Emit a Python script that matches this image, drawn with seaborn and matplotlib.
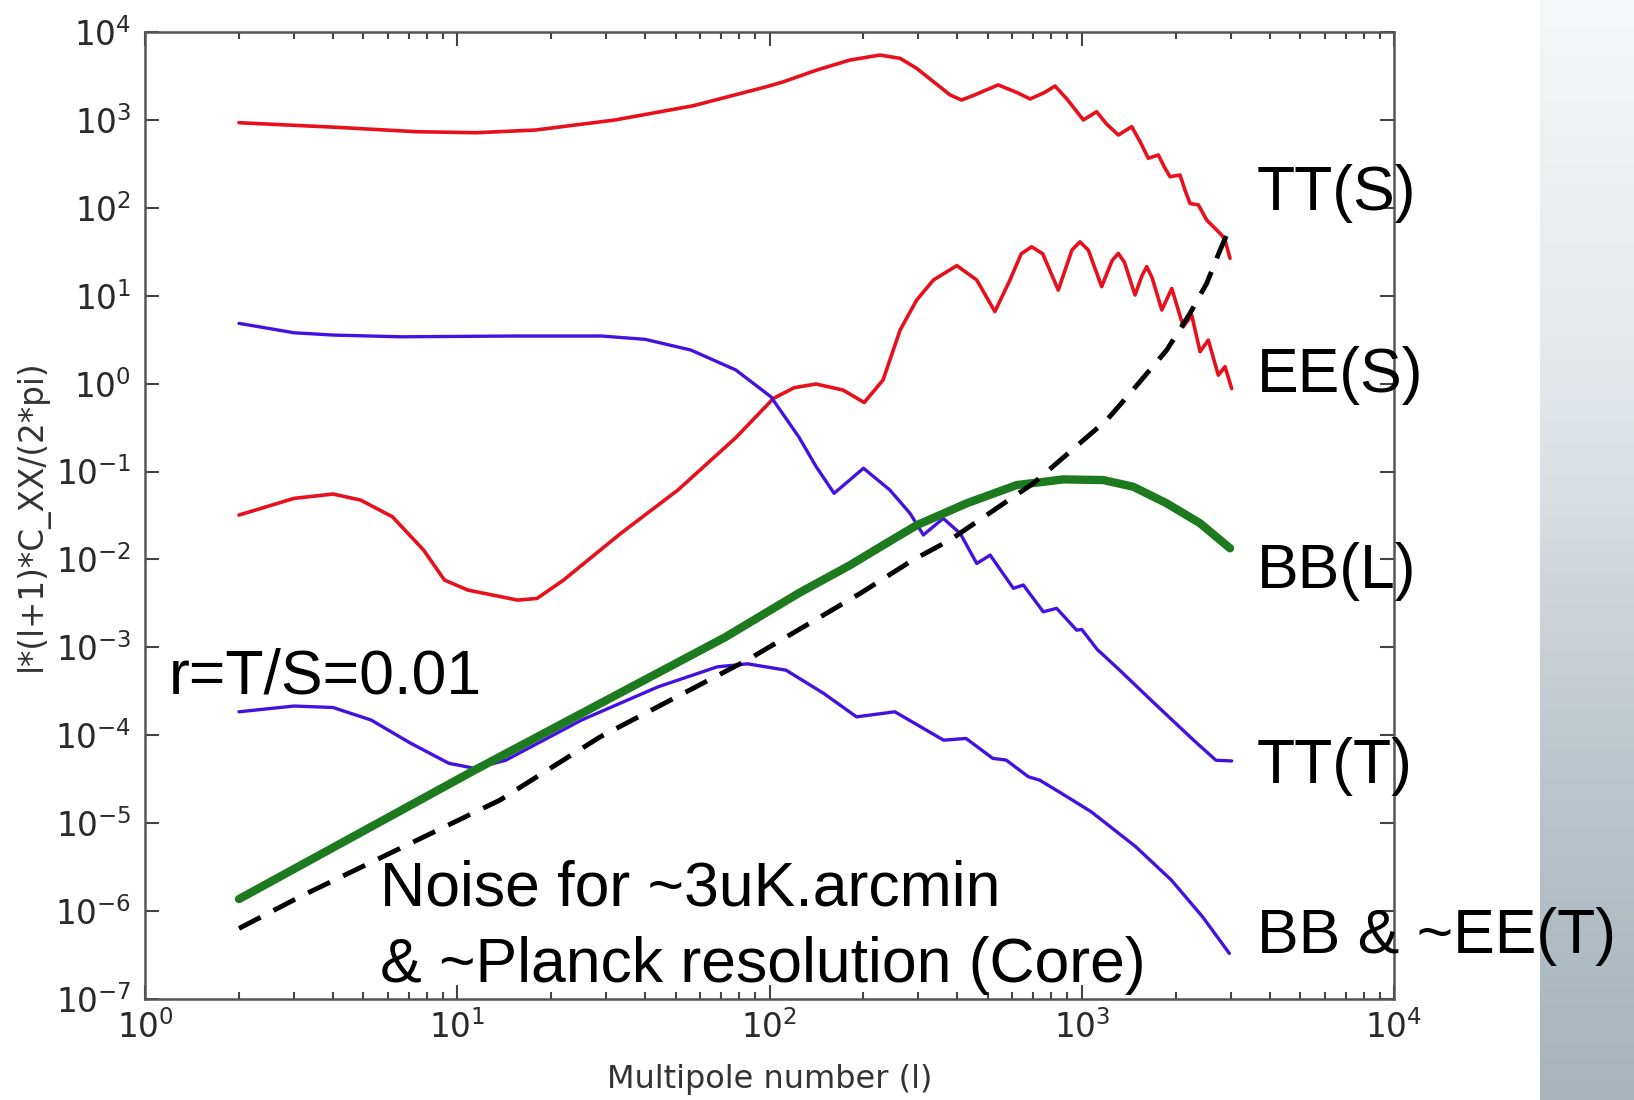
import numpy as np
import pandas as pd
import matplotlib
matplotlib.use("Agg")
import matplotlib.pyplot as plt
import seaborn as sns
from matplotlib.ticker import LogLocator, NullLocator, NullFormatter
from matplotlib.colors import LinearSegmentedColormap

# ---------------- data ----------------
tt_s_l = [2, 4.1, 7.4, 11.5, 17.8, 32, 57, 98, 111, 142, 181, 226, 262, 296, 335, 379, 412,
          450, 540, 620, 683, 760, 821, 900, 1012, 1116, 1200, 1310, 1445, 1540, 1634, 1759,
          1840, 1917, 2064, 2140, 2222, 2362, 2440, 2512, 2671, 2806, 2876, 2984]
tt_s_c = [929, 824, 734, 715, 767, 998, 1450, 2390, 2720, 3700, 4800, 5470, 5010, 3860, 2720,
          1920, 1683, 1900, 2500, 2050, 1730, 2050, 2430, 1700, 998, 1240, 900, 673, 837, 560,
          366, 399, 290, 226, 236, 160, 112, 108, 88, 72.6, 58.5, 49, 43, 26.7]

ee_s_l = [2, 3, 4, 4.9, 6.2, 7.8, 9.1, 10.8, 15.6, 18, 21.9, 33.4, 51, 78, 103, 120, 141, 172,
          201, 231, 262, 296, 335, 398, 461, 527, 589, 640, 691, 750, 841, 930, 987, 1050,
          1158, 1250, 1309, 1370, 1481, 1560, 1615, 1680, 1805, 1942, 2115, 2250, 2393, 2543,
          2737, 2876, 3021]
ee_s_c = [0.032, 0.0495, 0.0555, 0.0474, 0.0306, 0.0128, 0.00583, 0.00449, 0.00345, 0.0036,
          0.00583, 0.0198, 0.062, 0.243, 0.68, 0.9, 0.99, 0.845, 0.61, 1.1, 4.07, 8.93, 15.1,
          22, 15.1, 6.6, 15.1, 30, 36, 30, 11.6, 33, 41, 33, 12.7, 25, 30.3, 24, 10.2, 17,
          21.4, 16, 6.88, 12.1, 4.44, 6.03, 2.31, 3.13, 1.25, 1.56, 0.88]

bb_l_l = [2, 11.5, 72, 125, 181, 231, 296, 428, 619, 873, 1172, 1463, 1871, 2392, 2985]
bb_l_c = [1.37e-6, 4.1e-5, 1.3e-3, 4.2e-3, 8.6e-3, 0.0145, 0.0245, 0.0435, 0.0702, 0.0814,
          0.080, 0.0671, 0.0435, 0.0258, 0.0134]

tt_t_l = [2, 3, 4, 6.6, 15, 29, 40, 56, 78, 101, 124, 141, 161, 200, 243, 282, 311, 360,
          408, 461, 509, 604, 650, 753, 831, 963, 1000, 1120, 1304, 1755, 2281, 2690, 3021]
tt_t_c = [4.85, 3.79, 3.57, 3.41, 3.48, 3.48, 3.19, 2.41, 1.43, 0.71, 0.249, 0.114, 0.0565,
          0.109, 0.0616, 0.0334, 0.019, 0.0293, 0.0198, 0.0090, 0.0112, 0.00469, 0.00512,
          0.00254, 0.00278, 0.00157, 0.00160, 0.00095, 0.000577, 0.000211, 8.8e-5, 5.2e-5,
          5.1e-5]

bb_t_l = [2, 3, 4, 5.3, 7.1, 9.4, 11.4, 14.3, 25, 44, 68, 85, 113, 149, 190, 252, 361, 426,
          519, 573, 675, 733, 879, 1072, 1489, 1937, 2438, 2970]
bb_t_c = [1.85e-4, 2.15e-4, 2.07e-4, 1.49e-4, 8.1e-5, 4.8e-5, 4.2e-5, 5.2e-5, 1.49e-4,
          3.56e-4, 6.0e-4, 6.5e-4, 5.5e-4, 3.0e-4, 1.62e-4, 1.85e-4, 8.8e-5, 9.2e-5, 5.46e-5,
          5.22e-5, 3.37e-5, 3.09e-5, 2.09e-5, 1.35e-5, 5.4e-6, 2.25e-6, 8.6e-7, 3.3e-7]

noise_l = [2, 3.14, 13.7, 28.7, 85, 195, 287, 378, 700, 1202, 1428, 1871, 2222, 2512, 2773, 2985]
noise_c = [6.35e-7, 1.46e-6, 1.83e-5, 9.6e-5, 7.2e-4, 4.1e-3, 9.8e-3, 0.0166, 0.0735, 0.385,
           0.776, 2.41, 6.3, 13.8, 33, 60]

curve_labels = ["TT(S)", "EE(S)", "BB(L)", "TT(T)", "BB & ~EE(T)"]

# ---------------- style ----------------
sns.set_style("ticks")
plt.rcParams['font.family'] = ['DejaVu Sans']
plt.rcParams['mathtext.fontset'] = 'dejavusans'
plt.rcParams['axes.unicode_minus'] = False

W, H = 1634, 1100
fig = plt.figure(figsize=(W / 100, H / 100), dpi=100)
fig.patch.set_facecolor('white')

# right-hand gradient panel
pan = fig.add_axes([1540 / W, 0, (W - 1540) / W, 1], zorder=0)
grad = np.linspace(0, 1, 256).reshape(-1, 1)
cmap = LinearSegmentedColormap.from_list(
    'pan', [(0, '#f6f7f8'), (0.35, '#e3e7ea'), (0.7, '#bcc6cc'), (1, '#a6b4bc')])
pan.imshow(grad, aspect='auto', cmap=cmap, extent=[0, 1, 1, 0])
pan.axis('off')

ax = fig.add_axes([145 / W, 1 - 999 / H, (1394 - 145) / W, (999 - 32) / H], zorder=1)
ax.set_facecolor('white')

red = '#e8101c'
blue = '#4412e0'
green = '#1e7a1e'

def draw(lv, cv, **kw):
    df = pd.DataFrame({'l': lv, 'c': cv})
    sns.lineplot(data=df, x='l', y='c', ax=ax, estimator=None, legend=False,
                 solid_joinstyle='round', solid_capstyle='round', **kw)

draw(tt_s_l, tt_s_c, color=red, lw=2.6)
draw(ee_s_l, ee_s_c, color=red, lw=2.6)
draw(tt_t_l, tt_t_c, color=blue, lw=2.4)
draw(bb_t_l, bb_t_c, color=blue, lw=2.4)
draw(bb_l_l, bb_l_c, color=green, lw=6)
df_n = pd.DataFrame({'l': noise_l, 'c': noise_c})
sns.lineplot(data=df_n, x='l', y='c', ax=ax, estimator=None, legend=False,
             color='black', lw=3.5)
ax.lines[-1].set_dashes((5, 3))

ax.set_xscale('log')
ax.set_yscale('log')
ax.set_xlim(1, 1e4)
ax.set_ylim(1e-7, 1e4)
ax.xaxis.set_major_locator(LogLocator(base=10, numticks=20))
ax.xaxis.set_minor_locator(LogLocator(base=10, subs=np.arange(2, 10), numticks=40))
ax.xaxis.set_minor_formatter(NullFormatter())
ax.yaxis.set_major_locator(LogLocator(base=10, numticks=20))
ax.yaxis.set_minor_locator(NullLocator())
ax.yaxis.set_minor_formatter(NullFormatter())

ax.tick_params(which='both', direction='in', top=True, right=True, color='#444444',
               labelcolor='#2a2a2a', labelsize=23.5)
ax.tick_params(which='major', length=10, width=1.5)
ax.tick_params(which='minor', length=5, width=1.5)
ax.tick_params(axis='x', pad=8)
ax.tick_params(axis='y', pad=10)
for s in ax.spines.values():
    s.set_color('#555555')
    s.set_linewidth(1.8)
    s.set_visible(True)

ax.set_xlabel('Multipole number (l)', fontsize=23, color='#333333', labelpad=14)
ax.set_ylabel('l*(l+1)*C_XX/(2*pi)', fontsize=23.5, color='#333333', labelpad=4)

# annotations
afont = dict(family=['Liberation Sans', 'DejaVu Sans'], fontsize=45, color='black', va='baseline')
ypos = [210, 392, 588, 783, 953]
for lab, yb in zip(curve_labels, ypos):
    fig.text(1257 / W, 1 - yb / H, lab, **afont)
fig.text(169 / W, 1 - 693 / H, 'r=T/S=0.01', **afont)
fig.text(380 / W, 1 - 906 / H, 'Noise for ~3uK.arcmin', **afont)
fig.text(380 / W, 1 - 982 / H, '& ~Planck resolution (Core)', **afont)

fig.savefig('out.png', dpi=100, facecolor='white')
